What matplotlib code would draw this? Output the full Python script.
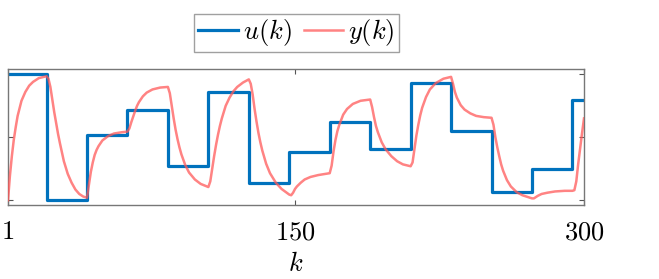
import matplotlib
matplotlib.use("Agg")
import matplotlib.pyplot as plt

plt.rcParams['mathtext.fontset'] = 'cm'
plt.rcParams['font.family'] = ['DejaVu Serif']

# input u(k): value held from each switch instant
u_k = [1, 21, 42, 63, 84, 105, 126, 147, 168, 189, 210, 231, 252, 273, 294, 300]
u_vals = [1, -1, 0.03, 0.44, -0.46, 0.72, -0.73, -0.24, 0.24, -0.18, 0.87, 0.10,
          -0.87, -0.51, 0.59, 0.59]

# output y(k)
y_k = [1, 2, 3, 4, 5, 6, 7, 8, 10, 12, 14, 17, 21,
       22, 23, 24, 25, 26, 27, 28, 30, 32, 34, 36, 38, 40, 42,
       43, 44, 45, 46, 47, 48, 50, 53, 56, 60, 63,
       64, 65, 66, 67, 68, 69, 71, 73, 76, 80, 84,
       85, 86, 87, 88, 89, 90, 91, 93, 95, 98, 101, 105,
       106, 107, 108, 109, 110, 111, 112, 114, 116, 118, 120, 123, 126,
       127, 128, 129, 130, 131, 132, 133, 135, 137, 140, 143, 147,
       148, 149, 150, 151, 153, 155, 158, 162, 168,
       169, 170, 171, 172, 173, 175, 177, 180, 184, 189,
       190, 191, 192, 193, 195, 197, 200, 203, 206, 210,
       211, 212, 213, 214, 215, 216, 218, 220, 223, 227, 231,
       232, 233, 234, 236, 238, 241, 244, 248, 252,
       253, 254, 255, 256, 257, 258, 260, 262, 265, 268, 273,
       274, 276, 278, 281, 285, 290, 294,
       295, 296, 297, 298, 299, 300]
y_vals = [-1, -0.61, -0.3, -0.04, 0.16, 0.34, 0.46, 0.58, 0.72, 0.82, 0.88, 0.94, 0.97,
          0.93, 0.8, 0.6, 0.4, 0.22, 0.05, -0.1, -0.38, -0.58, -0.72, -0.83, -0.9, -0.94, -0.96,
          -0.75, -0.55, -0.4, -0.28, -0.2, -0.14, -0.05, 0.02, 0.06, 0.08, 0.09,
          0.14, 0.24, 0.33, 0.42, 0.5, 0.56, 0.65, 0.71, 0.76, 0.79, 0.8,
          0.7, 0.5, 0.3, 0.12, -0.03, -0.16, -0.27, -0.44, -0.56, -0.67, -0.74, -0.79,
          -0.7, -0.5, -0.3, -0.12, 0.04, 0.18, 0.3, 0.5, 0.63, 0.73, 0.8, 0.87, 0.92,
          0.85, 0.68, 0.45, 0.25, 0.07, -0.08, -0.21, -0.42, -0.57, -0.72, -0.82, -0.91,
          -0.92, -0.88, -0.82, -0.78, -0.72, -0.67, -0.63, -0.6, -0.57,
          -0.45, -0.22, -0.04, 0.1, 0.2, 0.36, 0.45, 0.53, 0.58, 0.6,
          0.48, 0.32, 0.18, 0.08, -0.08, -0.19, -0.3, -0.38, -0.43, -0.46,
          -0.4, -0.18, 0.03, 0.2, 0.35, 0.47, 0.64, 0.76, 0.86, 0.93, 0.96,
          0.85, 0.72, 0.63, 0.51, 0.44, 0.38, 0.34, 0.32, 0.31,
          0.2, 0.0, -0.16, -0.3, -0.43, -0.53, -0.68, -0.78, -0.87, -0.92, -0.97,
          -0.97, -0.93, -0.9, -0.88, -0.86, -0.85, -0.85,
          -0.84, -0.7, -0.42, -0.17, 0.07, 0.3]

x_ticks = [1, 150, 300]
x_tick_labels = ['$1$', '$150$', '$300$']
y_ticks = [-1, 0, 1]

fig = plt.figure(figsize=(6.59, 2.79), dpi=100)
ax = fig.add_axes([8/659, 1-205.3/279, 576/659, 136/279])

lu, = ax.plot(u_k, u_vals, drawstyle='steps-post', color='#0072BD', lw=2.3,
              label='$u(k)$', zorder=2)
ly, = ax.plot(y_k, y_vals, color=(1.0, 0.35, 0.35), alpha=0.75, lw=1.8,
              label='$y(k)$', zorder=3)

ax.set_xlim(1, 300)
ax.set_ylim(-1.08, 1.08)
ax.set_xticks(x_ticks)
ax.set_xticklabels(x_tick_labels)
ax.set_yticks(y_ticks)
ax.set_yticklabels([])
ax.tick_params(direction='in', length=3.8, width=0.8, color='#555555',
               top=True, right=True, labelsize=19, pad=10)
for s in ax.spines.values():
    s.set_color('#777777')
    s.set_linewidth(1.0)
ax.set_xlabel('$k$', fontsize=19, labelpad=5)

leg = fig.legend(handles=[lu, ly], loc='center', ncol=2,
                 bbox_to_anchor=(296.5/659, 1-33/279), fontsize=19,
                 frameon=True, fancybox=False, edgecolor='#888888',
                 handlelength=1.5, handletextpad=0.2, columnspacing=0.45,
                 borderpad=0.15, borderaxespad=0)
leg.get_frame().set_linewidth(1.0)

fig.savefig('out.png', dpi=100)
